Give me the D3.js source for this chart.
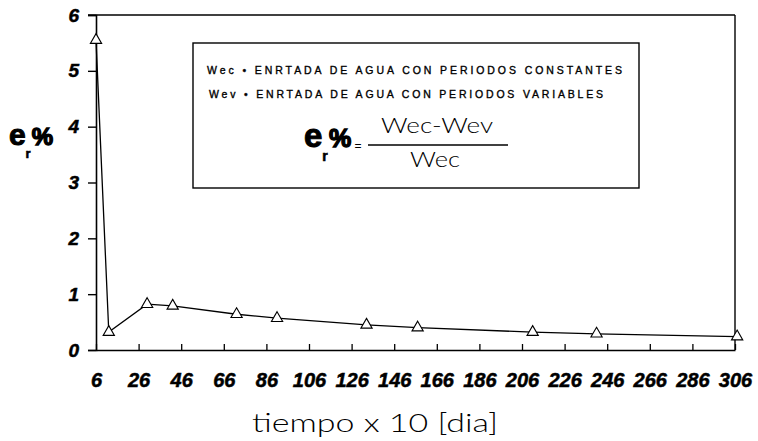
<!DOCTYPE html>
<html>
<head>
<meta charset="utf-8">
<script src="https://cdn.jsdelivr.net/npm/d3@7"></script>
<style>
  html, body { margin: 0; padding: 0; background: #fff; }
  svg { display: block; }
</style>
</head>
<body>
<svg id="chart" width="758" height="441"></svg>
<script>
// ---- data ----
const dias = [6, 12, 30, 42, 72, 91, 133, 157, 211, 241, 307];
const errorPct = [5.55, 0.32, 0.82, 0.79, 0.64, 0.57, 0.45, 0.40, 0.32, 0.29, 0.24];
const xTicks = [6, 26, 46, 66, 86, 106, 126, 146, 166, 186, 206, 226, 246, 266, 286, 306];
const yTicks = [0, 1, 2, 3, 4, 5, 6];
const legendLines = [
  "Wec \u2022 ENRTADA DE AGUA CON PERIODOS CONSTANTES",
  "Wev \u2022 ENRTADA DE AGUA CON PERIODOS VARIABLES"
];
const xTitle = "tiempo x 10 [dia]";

// ---- layout ----
const svg = d3.select("#chart");
const x = d3.scaleLinear().domain([6, 306]).range([96, 735]);
const y = d3.scaleLinear().domain([0, 6]).range([350, 15]);
const tickFont = "'Liberation Sans', Arial, sans-serif";
const lightFont = "Lato, 'Liberation Sans', sans-serif";

// frame top & right
svg.append("line").attr("x1", 88).attr("x2", x(306)).attr("y1", y(6)).attr("y2", y(6))
  .attr("stroke", "#000").attr("stroke-width", 1.6);
svg.append("line").attr("x1", x(306)).attr("x2", x(306)).attr("y1", y(6)).attr("y2", y(0))
  .attr("stroke", "#000").attr("stroke-width", 1.4);

// y axis
const yAxis = svg.append("g").attr("transform", `translate(${x(6)},0)`)
  .call(d3.axisLeft(y).tickValues(yTicks).tickSize(8).tickPadding(9).tickFormat(d3.format("d")));
yAxis.select(".domain").attr("stroke-width", 1.6);
yAxis.selectAll(".tick line").attr("stroke-width", 1.4);
yAxis.selectAll("text").attr("font-family", tickFont).attr("font-weight", "bold")
  .attr("font-style", "italic").attr("font-size", 19).attr("fill", "#000")
  .attr("stroke", "#000").attr("stroke-width", 0.5);

// x axis
const xAxis = svg.append("g").attr("transform", `translate(0,${y(0)})`)
  .call(d3.axisBottom(x).tickValues(xTicks).tickSize(0).tickPadding(0).tickFormat(d3.format("d")));
xAxis.select(".domain").attr("stroke-width", 1.6);
xAxis.selectAll(".tick line").attr("y1", 0).attr("y2", -6).attr("stroke-width", 1.3);
xAxis.selectAll("text").attr("font-family", tickFont).attr("font-weight", "bold")
  .attr("font-style", "italic").attr("font-size", 20).attr("fill", "#000")
  .attr("stroke", "#000").attr("stroke-width", 0.5)
  .attr("dy", null).attr("y", 37);

// series line
const line = d3.line().x((d, i) => x(dias[i])).y(d => y(d));
svg.append("path").datum(errorPct).attr("d", line)
  .attr("fill", "none").attr("stroke", "#000").attr("stroke-width", 1.3);

// triangle markers
const tri = d3.symbol().type(d3.symbolTriangle).size(55);
svg.append("g").selectAll("path").data(errorPct).join("path")
  .attr("d", tri)
  .attr("transform", (d, i) => `translate(${x(dias[i])},${y(d)})`)
  .attr("fill", "#fff").attr("stroke", "#000").attr("stroke-width", 1.1);

// legend / formula box
svg.append("rect").attr("x", 193).attr("y", 43).attr("width", 446).attr("height", 145)
  .attr("fill", "#fff").attr("stroke", "#000").attr("stroke-width", 1.4);
const legendPos = [{x: 207, y: 74, len: 415}, {x: 209, y: 98, len: 394}];
svg.append("g").selectAll("text").data(legendLines).join("text")
  .attr("x", (d, i) => legendPos[i].x).attr("y", (d, i) => legendPos[i].y)
  .attr("textLength", (d, i) => legendPos[i].len).attr("lengthAdjust", "spacing")
  .attr("font-family", tickFont).attr("font-size", 10.5).attr("fill", "#000")
  .attr("stroke", "#000").attr("stroke-width", 0.35)
  .text(d => d);

// formula: e_r% = (Wec-Wev)/Wec
function erLabel(g, ex, ey, eSize, pSize, rSize) {
  g.append("text").attr("x", ex).attr("y", ey).attr("font-family", tickFont)
    .attr("font-weight", "bold").attr("font-size", eSize)
    .attr("stroke", "#000").attr("stroke-width", 1).text("e");
  g.append("text").attr("x", ex + eSize * 0.55).attr("y", ey + eSize * 0.42).attr("font-family", tickFont)
    .attr("font-weight", "bold").attr("font-size", rSize)
    .attr("stroke", "#000").attr("stroke-width", 0.6).text("r");
  g.append("text").attr("x", ex + eSize * 0.76).attr("y", ey).attr("font-family", tickFont)
    .attr("font-weight", "bold").attr("font-size", pSize)
    .attr("stroke", "#000").attr("stroke-width", 1.4).text("%");
}
const fg = svg.append("g");
erLabel(fg, 304, 147, 33, 25, 14);
fg.append("text").attr("x", 358).attr("y", 150).attr("text-anchor", "middle")
  .attr("font-family", tickFont).attr("font-size", 12).text("=");
fg.append("line").attr("x1", 368).attr("x2", 508).attr("y1", 145).attr("y2", 145)
  .attr("stroke", "#000").attr("stroke-width", 1.3);
fg.append("text").attr("x", 381).attr("y", 133).attr("textLength", 112).attr("lengthAdjust", "spacingAndGlyphs")
  .attr("font-family", lightFont).attr("font-weight", 300).attr("font-size", 22).text("Wec-Wev");
fg.append("text").attr("x", 410).attr("y", 167).attr("textLength", 50).attr("lengthAdjust", "spacingAndGlyphs")
  .attr("font-family", lightFont).attr("font-weight", 300).attr("font-size", 22).text("Wec");

// y axis title
const yg = svg.append("g");
erLabel(yg, 9, 145, 30, 24, 13);

// x axis title
svg.append("text").attr("x", 252).attr("y", 432).attr("textLength", 246).attr("lengthAdjust", "spacingAndGlyphs")
  .attr("font-family", lightFont).attr("font-weight", 300)
  .attr("font-size", 26).attr("fill", "#000").text(xTitle);
</script>
</body>
</html>
